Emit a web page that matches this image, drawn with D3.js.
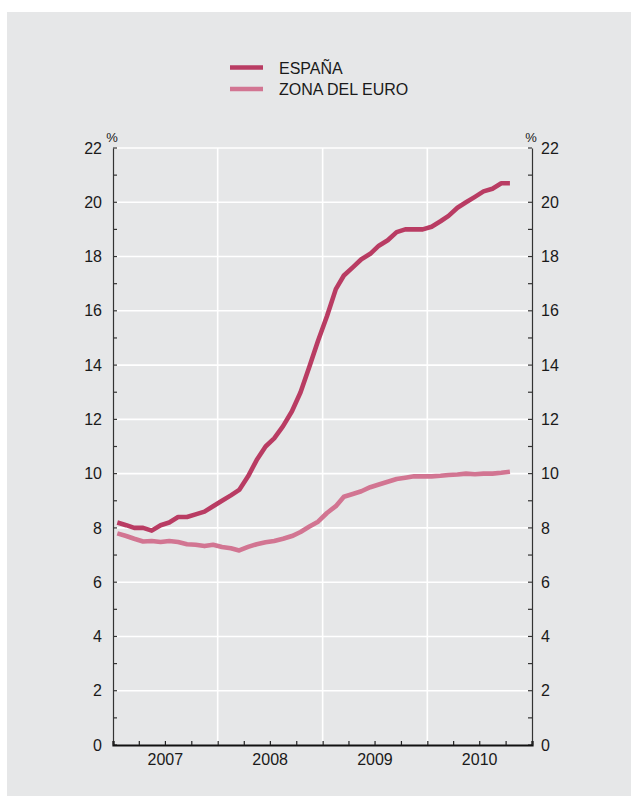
<!DOCTYPE html>
<html>
<head>
<meta charset="utf-8">
<script src="https://cdn.jsdelivr.net/npm/d3@7"></script>
<style>
  html, body { margin: 0; padding: 0; background: #ffffff; }
  svg { display: block; }
  text { font-family: "Liberation Sans", Arial, Helvetica, sans-serif; fill: #1a1a1a; }
</style>
</head>
<body>
<svg id="chart" width="631" height="796"></svg>
<script>
// ---- DATA (monthly, Jan 2007 – Oct 2010) ----
const startYear = 2007;
const startMonth = 0; // January
const espana = [
  8.2, 8.1, 8.0, 8.0, 7.9, 8.1, 8.2, 8.4, 8.4, 8.5, 8.6, 8.8,
  9.0, 9.2, 9.4, 9.9, 10.5, 11.0, 11.3, 11.75, 12.3, 13.0, 13.95, 14.9,
  15.8, 16.8, 17.3, 17.6, 17.9, 18.1, 18.4, 18.6, 18.9, 19.0, 19.0, 19.0,
  19.1, 19.3, 19.5, 19.8, 20.0, 20.2, 20.4, 20.5, 20.7, 20.7
];
const zonaEuro = [
  7.8, 7.7, 7.6, 7.5, 7.52, 7.48, 7.52, 7.48, 7.4, 7.38, 7.33, 7.38,
  7.3, 7.25, 7.17, 7.3, 7.4, 7.47, 7.52, 7.6, 7.7, 7.85, 8.05, 8.23,
  8.55, 8.8, 9.15, 9.25, 9.35, 9.5, 9.6, 9.7, 9.8, 9.85, 9.9, 9.9,
  9.9, 9.92, 9.95, 9.97, 10.0, 9.98, 10.0, 10.0, 10.03, 10.07
];
const seriesNames = ["ESPAÑA", "ZONA DEL EURO"];
const seriesColors = ["#b93c63", "#d27592"];
const yTicks = [0, 2, 4, 6, 8, 10, 12, 14, 16, 18, 20, 22];
const yearLabels = ["2007", "2008", "2009", "2010"];

// ---- LAYOUT ----
const svg = d3.select("#chart");
const W = 631, H = 796;
const m = { left: 113, right: 532, top: 148, bottom: 745 };
const fs = "16px";

svg.append("rect").attr("x", 7).attr("y", 12).attr("width", W - 7).attr("height", H - 12)
  .attr("fill", "#e6e7e8");

const x = d3.scaleTime()
  .domain([new Date(startYear, 0, 1), new Date(startYear + yearLabels.length, 0, 1)])
  .range([m.left, m.right]);
const y = d3.scaleLinear().domain([0, 22]).range([m.bottom, m.top]);

// date at mid-month
const dateOf = i => new Date(startYear, startMonth + i, 16);

// gridlines
const grid = svg.append("g");
grid.selectAll("line.h").data(yTicks.filter(d => d > 0)).join("line")
  .attr("x1", m.left).attr("x2", m.right)
  .attr("y1", d => y(d)).attr("y2", d => y(d))
  .attr("stroke", "#ffffff").attr("stroke-width", 1.6);
const yearBounds = d3.range(1, yearLabels.length).map(k => new Date(startYear + k, 0, 1));
grid.selectAll("line.v").data(yearBounds).join("line")
  .attr("x1", d => x(d)).attr("x2", d => x(d))
  .attr("y1", m.top).attr("y2", m.bottom)
  .attr("stroke", "#ffffff").attr("stroke-width", 1.6);

// left and right axes
const yMinor = d3.range(0, 23, 1);
const leftAxis = d3.axisLeft(y).tickValues(yTicks).tickSize(0).tickPadding(11);
const gl = svg.append("g").attr("transform", `translate(${m.left},0)`).call(leftAxis);
gl.select(".domain").attr("stroke", "#333").attr("stroke-width", 1.2);
gl.selectAll("text").style("font-size", fs).attr("fill", "#1a1a1a");
gl.selectAll("line.minor").data(yMinor).join("line").attr("class", "minor")
  .attr("x1", 0).attr("x2", 4).attr("y1", d => y(d)).attr("y2", d => y(d))
  .attr("stroke", "#333").attr("stroke-width", 1.2);

const rightAxis = d3.axisRight(y).tickValues(yTicks).tickSize(0).tickPadding(9);
const gr = svg.append("g").attr("transform", `translate(${m.right},0)`).call(rightAxis);
gr.select(".domain").attr("stroke", "#333").attr("stroke-width", 1.2);
gr.selectAll("text").style("font-size", fs).attr("fill", "#1a1a1a");
gr.selectAll("line.minor").data(yMinor).join("line").attr("class", "minor")
  .attr("x1", 0).attr("x2", -4).attr("y1", d => y(d)).attr("y2", d => y(d))
  .attr("stroke", "#333").attr("stroke-width", 1.2);

// % labels
svg.append("text").attr("x", 112).attr("y", 142).attr("text-anchor", "middle")
  .style("font-size", "13px").text("%");
svg.append("text").attr("x", 531).attr("y", 142).attr("text-anchor", "middle")
  .style("font-size", "13px").text("%");

// bottom axis
const quarters = d3.timeMonth.every(3).range(new Date(startYear, 0, 1), new Date(startYear + yearLabels.length, 0, 2));
const bottomAxis = d3.axisBottom(x).tickValues(quarters).tickSize(-4).tickFormat("");
const gb = svg.append("g").attr("transform", `translate(0,${m.bottom})`).call(bottomAxis);
gb.select(".domain").attr("stroke", "#111").attr("stroke-width", 2.2);
gb.selectAll(".tick line").attr("stroke", "#222").attr("stroke-width", 1.2);
svg.append("g").selectAll("text").data(yearLabels).join("text")
  .attr("x", (d, k) => (x(new Date(startYear + k, 0, 1)) + x(new Date(startYear + k + 1, 0, 1))) / 2)
  .attr("y", 765).attr("text-anchor", "middle").style("font-size", fs).text(d => d);

// lines
const line = d3.line().x((d, i) => x(dateOf(i))).y(d => y(d));
[espana, zonaEuro].forEach((s, k) => {
  svg.append("path").datum(s).attr("d", line)
    .attr("fill", "none").attr("stroke", seriesColors[k])
    .attr("stroke-width", 4.6).attr("stroke-linejoin", "round");
});

// legend
const lg = svg.append("g");
seriesNames.forEach((n, k) => {
  const yy = 67.5 + k * 21.5;
  lg.append("line").attr("x1", 230).attr("x2", 263).attr("y1", yy).attr("y2", yy)
    .attr("stroke", seriesColors[k]).attr("stroke-width", 4.6);
  lg.append("text").attr("x", 279).attr("y", yy + 6).style("font-size", fs).text(n);
});
</script>
</body>
</html>
